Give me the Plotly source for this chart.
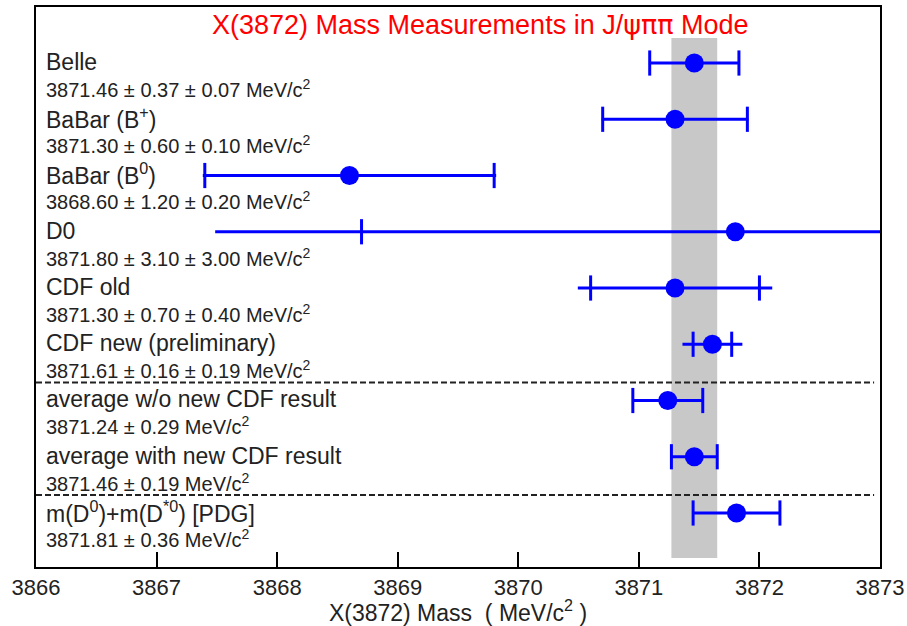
import math
import plotly.graph_objects as go

# ---- data ----
names = ["Belle", "BaBar (B<sup>+</sup>)", "BaBar (B<sup>0</sup>)", "D0", "CDF old",
         "CDF new (preliminary)", "average w/o new CDF result",
         "average with new CDF result", "m(D<sup>0</sup>)+m(D<sup>*0</sup>) [PDG]"]
values = [3871.46, 3871.30, 3868.60, 3871.80, 3871.30, 3871.61, 3871.24, 3871.46, 3871.81]
stat = [0.37, 0.60, 1.20, 3.10, 0.70, 0.16, 0.29, 0.19, 0.36]
syst = [0.07, 0.10, 0.20, 3.00, 0.40, 0.19, None, None, None]
xticks = [3866, 3867, 3868, 3869, 3870, 3871, 3872, 3873]
band_index = 7  # "average with new CDF result" defines the grey band
separators_after = [5, 7]

rows = list(range(len(names)))
total = [math.sqrt(s ** 2 + (y or 0) ** 2) for s, y in zip(stat, syst)]

BLUE = "#0000ff"
FONT = "Liberation Sans, Arial, sans-serif"
TXT = "#222222"

fig = go.Figure()

# error lines (to total error), no caps
fig.add_trace(go.Scatter(
    x=values, y=rows, mode="markers",
    marker=dict(size=0.1, color=BLUE),
    error_x=dict(type="data", array=total, symmetric=True, thickness=3,
                 width=0, color=BLUE),
    showlegend=False, hoverinfo="skip"))

# ticks at +- stat
tx, ty = [], []
for v, s, r in zip(values, stat, rows):
    tx += [v - s, v + s]
    ty += [r, r]
fig.add_trace(go.Scatter(
    x=tx, y=ty, mode="markers",
    marker=dict(symbol="line-ns", size=18, line=dict(width=3, color=BLUE)),
    showlegend=False, hoverinfo="skip"))

# central values
fig.add_trace(go.Scatter(
    x=values, y=rows, mode="markers",
    marker=dict(symbol="circle", size=19, color=BLUE, line=dict(width=0)),
    showlegend=False))

# grey band
bv, bs = values[band_index], stat[band_index]
fig.add_shape(type="rect", x0=bv - bs, x1=bv + bs, y0=-0.445, y1=8.8,
              xref="x", yref="y", fillcolor="#c8c8c8", line=dict(width=0),
              layer="below")

# dashed separators
for a in separators_after:
    yy = a + 0.68
    fig.add_shape(type="line", xref="paper", yref="y", x0=0, x1=0.993,
                  y0=yy, y1=yy, line=dict(color="#222222", width=2, dash="6px,3px"))

# labels
for i, (n, v, s, y) in enumerate(zip(names, values, stat, syst)):
    if y is None:
        val = f"{v:.2f} ± {s:.2f} MeV/c<sup>2</sup>"
    else:
        val = f"{v:.2f} ± {s:.2f} ± {y:.2f} MeV/c<sup>2</sup>"
    fig.add_annotation(x=0.01, xref="paper", y=i - 0.02, yref="y", text=n,
                       showarrow=False, xanchor="left", yanchor="middle",
                       font=dict(family=FONT, size=23, color=TXT))
    fig.add_annotation(x=0.01, xref="paper", y=i + 0.45, yref="y", text=val,
                       showarrow=False, xanchor="left", yanchor="middle",
                       font=dict(family=FONT, size=20, color=TXT))

# title
fig.add_annotation(x=0.527, xref="paper", y=0.9696, yref="paper",
                   text="X(3872) Mass Measurements in J/<span style=\"font-family:'DejaVu Sans'\">ψππ</span> Mode",
                   showarrow=False, xanchor="center", yanchor="middle",
                   font=dict(family=FONT, size=27, color="#ff0000"))

fig.update_layout(
    width=907, height=626,
    margin=dict(l=36, r=27, t=7, b=59, pad=0),
    paper_bgcolor="white", plot_bgcolor="white",
    xaxis=dict(range=[3866, 3873], tickvals=xticks, ticktext=[str(t) for t in xticks],
               ticks="inside", ticklen=15, tickwidth=1.5, tickcolor="black",
               showline=True, linewidth=2, linecolor="black", mirror=True,
               showgrid=False, zeroline=False, automargin=False,
               tickfont=dict(family=FONT, size=22, color=TXT),
               title=dict(text="X(3872) Mass  ( MeV/c<sup>2</sup> )",
                          font=dict(family=FONT, size=23, color=TXT), standoff=2)),
    yaxis=dict(range=[8.96, -0.996], showticklabels=False, ticks="",
               showline=True, linewidth=2, linecolor="black", mirror=True,
               showgrid=False, zeroline=False, automargin=False),
)

fig.write_html("out.html", config={"displayModeBar": False},
               post_script="document.body.style.margin='0';document.body.style.overflow='hidden';")
